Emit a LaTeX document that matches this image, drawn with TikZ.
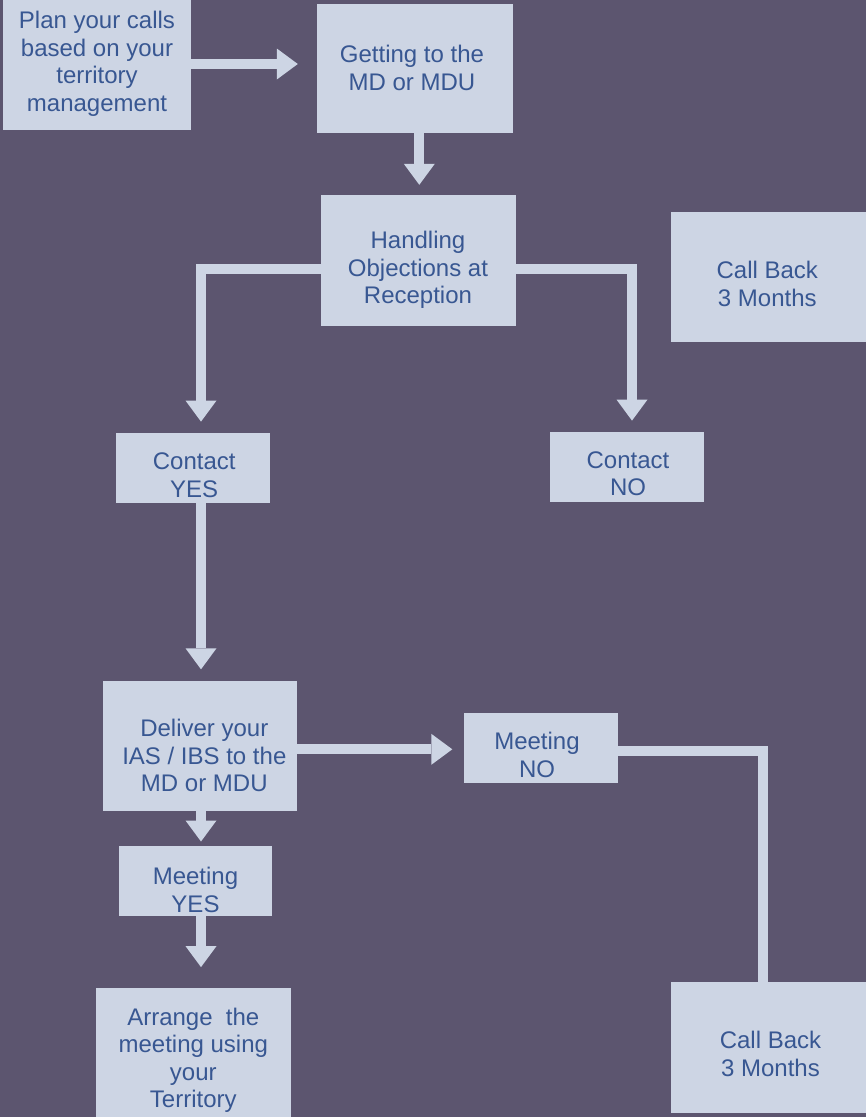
\documentclass[tikz,border=0pt]{standalone}
\usepackage{fontspec}
\setmainfont{Liberation Sans}
\usetikzlibrary{arrows.meta,calc}
\definecolor{backdrop}{RGB}{92,85,111}
\definecolor{boxfill}{RGB}{205,213,228}
\definecolor{ink}{RGB}{56,87,146}
\pgfdeclarelayer{back}
\pgfdeclarelayer{links}
\pgfsetlayers{back,links,main}

\begin{document}
\begin{tikzpicture}[x=1pt,y=-1pt,
  box/.style n args={2}{fill=boxfill, draw=none, inner sep=0pt,
    minimum width=#1pt, minimum height=#2pt},
  txt/.style={font=\fontsize{24}{27.5}\selectfont, text=ink, align=center,
    inner sep=0pt, yshift=-2pt},
  barrow/.style={draw=boxfill, line width=10pt,
    -{Triangle[width=31pt,length=21pt,line width=0pt]}}
]
\useasboundingbox (0,0) rectangle (866,1117);
\begin{pgfonlayer}{back}
  \fill[backdrop] (0,0) rectangle (866,1117);
\end{pgfonlayer}

% boxes
\node[box={188}{130}]   (plan)  at (97,65)      {};
\node[box={196}{129}]   (get)   at (415,68.7)   {};
\node[box={195}{131}]   (hand)  at (418.5,260.5){};
\node[box={195}{130}]   (cbt)   at (768.5,277)  {};
\node[box={154}{70}]    (cyes)  at (193,467.8)  {};
\node[box={154}{70}]    (cno)   at (627,466.8)  {};
\node[box={194.5}{130}] (deliv) at (199.75,746) {};
\node[box={154}{70}]    (mno)   at (541,747.7)  {};
\node[box={153}{70}]    (myes)  at (195.5,880.7){};
\node[box={195}{129}]   (arr)   at (193.5,1052.5){};
\node[box={195}{131}]   (cbb)   at (768.5,1047.2){};

% texts
\node[txt] (plantxt)  at (97,62)       {Plan your calls\\based on your\\territory\\management};
\node[txt] (gettxt)   at (412,66)      {Getting to the\\MD or MDU};
\node[txt] (handtxt)  at (418,267.8)   {Handling\\Objections at\\Reception};
\node[txt] (cbttxt)   at (767.3,281.7) {Call Back\\3 Months};
\node[txt] (cyestxt)  at (194.2,473.3) {Contact\\YES};
\node[txt] (cnotxt)   at (628,471.7)   {Contact\\NO};
\node[txt] (delivtxt) at (204.3,753.6) {Deliver your\\IAS / IBS to the\\MD or MDU};
\node[txt] (mnotxt)   at (537,753)     {Meeting\\NO};
\node[txt] (myestxt)  at (195.5,888)   {Meeting\\YES};
\node[txt] (arrtxt)   at (193.3,1058.5){Arrange\ \ the\\meeting using\\your\\Territory};
\node[txt] (cbbtxt)   at (770.5,1052)  {Call Back\\3 Months};

% connectors
\begin{pgfonlayer}{links}
  \draw[barrow] ($(plan.east)+(0,-1)$) -- ($(get.west)+(-19,-4.7)$);
  \draw[barrow] ($(get.south)+(4.3,0)$) -- ($(hand.north)+(0.8,-10)$);
  \draw[barrow] ($(hand.west)+(0,8.5)$) -| ($(cyes.north)+(8,-11)$);
  \draw[barrow] ($(hand.east)+(0,8)$) -| ($(cno.north)+(5,-11)$);
  \draw[barrow] ($(cyes.south)+(8,0)$) -- ($(deliv.north)+(1.25,-11.5)$);
  \draw[barrow] ($(deliv.east)+(0,3.3)$) -- ($(mno.west)+(-11.5,1.6)$);
  \draw[barrow] ($(deliv.south)+(1.25,0)$) -- ($(myes.north)+(5.5,-4)$);
  \draw[barrow] ($(myes.south)+(5.5,0)$) -- ($(arr.north)+(7.5,-20.7)$);
  \draw[barrow] ($(mno.east)+(0,3.6)$) -| ($(cbb.north)+(-5.8,40)$);
\end{pgfonlayer}
\end{tikzpicture}
\end{document}
